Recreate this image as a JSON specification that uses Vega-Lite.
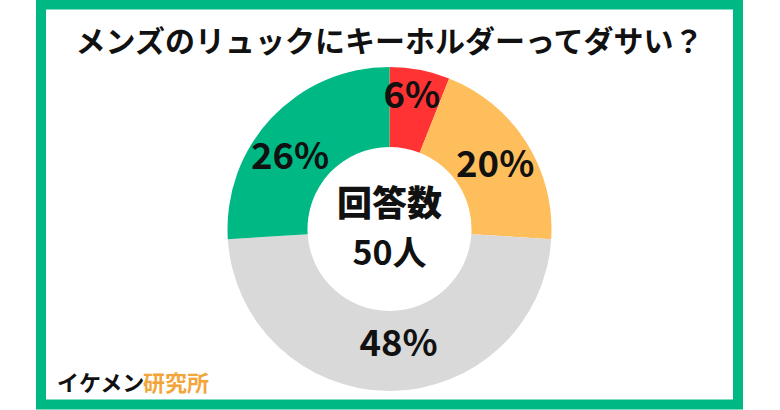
{
  "$schema": "https://vega.github.io/schema/vega-lite/v6.json",
  "width": 697,
  "height": 400,
  "autosize": "none",
  "padding": {"left": 41, "top": 4.5, "right": 42, "bottom": 5.5},
  "background": "white",
  "view": {"stroke": "#00B884", "strokeWidth": 10, "fill": "white"},
  "config": {
    "view": {"stroke": "#00B884", "strokeWidth": 10},
    "font": "Noto Sans CJK JP"
  },
  "datasets": {
    "answers": [
      {"category": "とてもダサい", "value": 6, "label": "6%", "rank": 1},
      {"category": "ややダサい", "value": 20, "label": "20%", "rank": 2},
      {"category": "どちらともいえない", "value": 48, "label": "48%", "rank": 3},
      {"category": "ダサくない", "value": 26, "label": "26%", "rank": 4}
    ],
    "title": [{"text": "メンズのリュックにキーホルダーってダサい？"}],
    "center": [{"line1": "回答数", "line2": "50人"}],
    "brand": [{"a": "イケメン", "b": "研究所"}]
  },
  "layer": [
    {
      "data": {"name": "answers"},
      "mark": {"type": "arc", "innerRadius": 82, "outerRadius": 162, "yOffset": 24.5},
      "encoding": {
        "theta": {"field": "value", "type": "quantitative", "stack": true},
        "order": {"field": "rank", "type": "quantitative"},
        "color": {
          "field": "category",
          "type": "nominal",
          "scale": {
            "domain": ["とてもダサい", "ややダサい", "どちらともいえない", "ダサくない"],
            "range": ["#FF3333", "#FFBE5C", "#D9D9D9", "#00B884"]
          },
          "legend": null
        }
      }
    },
    {
      "data": {"name": "answers"},
      "mark": {
        "type": "text",
        "radius": 124,
        "yOffset": 24.5,
        "fontSize": 36.5,
        "fontWeight": "bold",
        "color": "#111111",
        "dx": {"expr": "datum.label === '26%' ? -9 : datum.label === '48%' ? 9 : datum.label === '6%' ? -1 : 1"},
        "dy": {"expr": "datum.label === '26%' ? 13.5 : datum.label === '48%' ? -8 : datum.label === '6%' ? -10 : 3.5"}
      },
      "encoding": {
        "theta": {"field": "value", "type": "quantitative", "stack": true},
        "order": {"field": "rank", "type": "quantitative"},
        "text": {"field": "label", "type": "nominal"}
      }
    },
    {
      "data": {"name": "title"},
      "mark": {"type": "text", "dy": -162, "fontSize": 30, "fontWeight": "bold", "color": "#111111", "baseline": "middle"},
      "encoding": {"text": {"field": "text", "type": "nominal"}}
    },
    {
      "data": {"name": "center"},
      "mark": {"type": "text", "dy": 0, "fontSize": 35, "fontWeight": 900, "color": "#111111", "baseline": "middle"},
      "encoding": {"text": {"field": "line1", "type": "nominal"}}
    },
    {
      "data": {"name": "center"},
      "mark": {"type": "text", "dy": 50, "fontSize": 34, "fontWeight": "bold", "color": "#111111", "baseline": "middle"},
      "encoding": {"text": {"field": "line2", "type": "nominal"}}
    },
    {
      "data": {"name": "brand"},
      "mark": {"type": "text", "dx": -332.5, "dy": 179.5, "align": "left", "fontSize": 22, "fontWeight": "bold", "color": "#111111", "baseline": "middle"},
      "encoding": {"text": {"field": "a", "type": "nominal"}}
    },
    {
      "data": {"name": "brand"},
      "mark": {"type": "text", "dx": -246.5, "dy": 179.5, "align": "left", "fontSize": 22, "fontWeight": "bold", "color": "#F4A53A", "baseline": "middle"},
      "encoding": {"text": {"field": "b", "type": "nominal"}}
    }
  ]
}
